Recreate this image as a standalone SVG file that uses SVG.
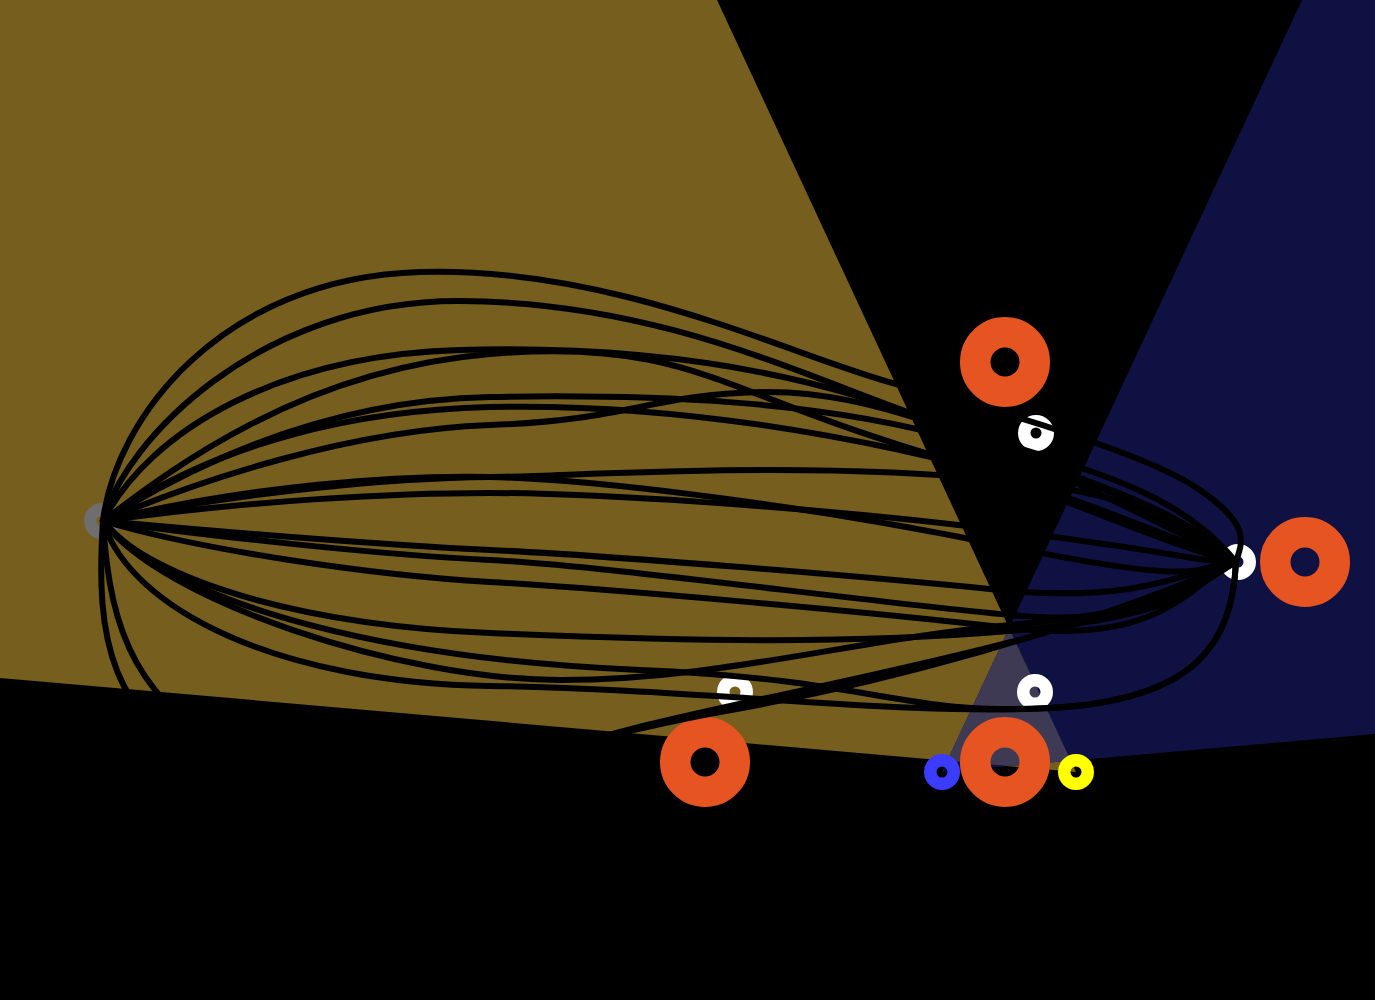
<svg xmlns="http://www.w3.org/2000/svg" width="1375" height="1000" viewBox="0 0 1375 1000">
<style>
.big{fill:none;stroke:#e55421;stroke-width:30.5}
.small{fill:none;stroke-width:12.5}
.edge{fill:none;stroke:#000;stroke-width:6;stroke-linecap:round;stroke-linejoin:round}
</style>
<g id="scene">
<rect x="0" y="0" width="1375" height="1000" fill="#000"/>
<polygon points="1076,772 717,0 0,0 0,678" fill="#765e1e"/>
<polygon points="942,772 1302,0 1375,0 1375,734" fill="#0f1142"/>
<polygon points="1009,628 1070.8,760.7 1009,766.1 947.2,760.7" fill="#3f3a54"/>
</g>
<g id="nodes">
<g id="n-left"><circle cx="102" cy="521" r="11.75" class="small" stroke="#6e6e6e"/></g>
<g id="n-right"><circle cx="1238" cy="562" r="11.75" class="small" stroke="#fff"/></g>
<g id="n-w1"><circle cx="1036" cy="433" r="11.75" class="small" stroke="#fff"/></g>
<g id="n-w2"><circle cx="1035" cy="692" r="11.75" class="small" stroke="#fff"/></g>
<g id="n-w3"><circle cx="735" cy="692" r="11.75" class="small" stroke="#fff"/></g>
<g id="n-blue"><circle cx="942" cy="772" r="11.75" class="small" stroke="#3c3cff"/></g>
<g id="n-yellow"><circle cx="1076" cy="772" r="11.75" class="small" stroke="#ffff00"/></g>
<g id="n-o1"><circle cx="1005" cy="362" r="29.75" class="big"/></g>
<g id="n-o2"><circle cx="705" cy="762" r="29.75" class="big"/></g>
<g id="n-o3"><circle cx="1005" cy="762" r="29.75" class="big"/></g>
<g id="n-o4"><circle cx="1305" cy="562" r="29.75" class="big"/></g>
</g>
<g id="edges">
<path class="edge" d="M103,521 C115,420 220,278 420,272 S800,360 900,385 S1150,455 1200,490 S1243,540 1236,562"/>
<path class="edge" d="M103,521 C125,440 260,300 460,301 S800,375 930,420 S1170,480 1236,562"/>
<path class="edge" d="M103,521 C150,430 280,355 460,350 S800,368 940,425 S1170,500 1236,562"/>
<path class="edge" d="M103,521 C170,470 300,370 490,354 S720,390 900,445 S1150,540 1236,562"/>
<path class="edge" d="M103,521 C200,460 330,400 490,397 S820,400 960,440 S1180,520 1236,562"/>
<path class="edge" d="M103,521 C200,480 350,430 490,425 S650,395 760,392 S1000,440 1236,562"/>
<path class="edge" d="M103,521 C220,440 360,410 490,407 S760,420 900,450 S1150,530 1236,562"/>
<path class="edge" d="M103,521 C250,490 400,478 490,477 S800,460 1000,480 S1180,550 1236,562"/>
<path class="edge" d="M103,521 C250,500 400,493 490,493 S800,505 1000,530 S1180,560 1236,562"/>
<path class="edge" d="M103,521 C250,485 400,475 490,477 S780,500 1000,545 S1190,565 1236,562"/>
<path class="edge" d="M103,521 C200,530 380,545 490,550 S850,575 1000,590 S1200,565 1236,562"/>
<path class="edge" d="M103,521 C200,535 380,555 490,560 S850,600 1010,615 S1180,575 1236,562"/>
<path class="edge" d="M103,521 C200,550 370,575 490,582 S850,610 1010,628 S1190,580 1236,562"/>
<path class="edge" d="M103,521 C150,580 300,625 490,633 S850,645 1020,630 S1190,585 1236,562"/>
<path class="edge" d="M103,521 C130,610 280,683 490,686 S900,716 1050,708 S1232,640 1236,562"/>
<path class="edge" d="M103,521 C95,640 110,720 220,770 S480,770 620,732 S1100,640 1236,562"/>
<path class="edge" d="M103,521 C110,640 140,700 240,760 S560,740 720,712 S1080,630 1236,562"/>
<path class="edge" d="M103,521 C180,610 400,660 640,670 S900,716 1050,708 S1232,640 1236,562"/>
<path class="edge" d="M103,521 C160,600 400,680 560,680 S850,640 1010,625 S1190,590 1236,562"/>
</g>
</svg>
